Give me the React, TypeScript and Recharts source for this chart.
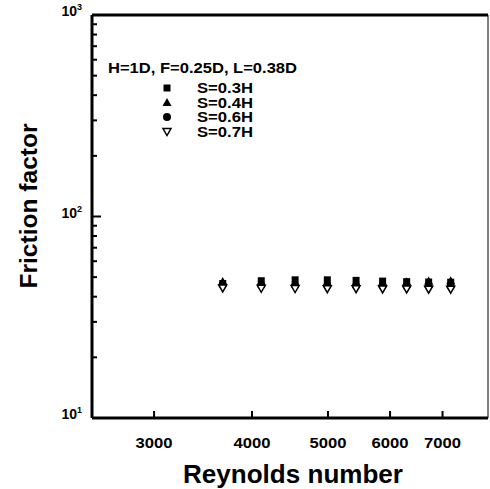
import { ScatterChart, Scatter, XAxis, YAxis, ReferenceLine } from "recharts";

// Reynolds numbers of the measured points
const reynolds = [3670, 4110, 4540, 4990, 5430, 5870, 6300, 6720, 7170];

// friction factor for each spacing
const s03 = [46.5, 48.0, 48.5, 48.5, 48.2, 47.8, 47.5, 47.3, 47.2];
const s04 = [47.6, 47.2, 47.0, 47.0, 47.0, 47.2, 47.5, 47.8, 48.0];
const s06 = [45.8, 45.6, 45.5, 45.4, 45.3, 45.3, 45.2, 45.2, 45.1];
const s07 = [44.2, 44.0, 43.9, 43.8, 43.8, 43.7, 43.7, 43.6, 43.6];

const seriesNames = ["S=0.3H", "S=0.4H", "S=0.6H", "S=0.7H"];
const headerText = "H=1D, F=0.25D, L=0.38D";

const xTicks = [3000, 4000, 5000, 6000, 7000];
const yTicks = [10, 20, 30, 40, 50, 60, 70, 80, 90, 100, 200, 300, 400, 500, 600, 700, 800, 900, 1000];
const xDomain = [2500, 8000];
const yDomain = [10, 1000];

const FONT = "'Liberation Sans', Arial, sans-serif";

const toRows = (ys: number[]) => reynolds.map((re, i) => ({ re, f: ys[i] }));

function SquareMark({ cx, cy }: any) {
  return <rect x={cx - 3.5} y={cy - 3.5} width={7} height={7} fill="#000" />;
}
function TriMark({ cx, cy }: any) {
  return <polygon points={`${cx},${cy - 4.5} ${cx + 4.5},${cy + 3.5} ${cx - 4.5},${cy + 3.5}`} fill="#000" />;
}
function DotMark({ cx, cy }: any) {
  return <circle cx={cx} cy={cy} r={4} fill="#000" />;
}
function InvTriMark({ cx, cy }: any) {
  return (
    <polygon
      points={`${cx - 4},${cy - 3} ${cx + 4},${cy - 3} ${cx},${cy + 4}`}
      fill="#fff"
      stroke="#000"
      strokeWidth={1.5}
    />
  );
}
const marks = [SquareMark, TriMark, DotMark, InvTriMark];

const isMajor = (v: number) => {
  const e = Math.log10(v);
  return Math.abs(e - Math.round(e)) < 1e-6;
};

function XTick(props: any) {
  const { x, y, payload } = props;
  return (
    <g>
      <rect x={x - 1} y={y - 7} width={2} height={7} fill="#000" />
      <text x={x} y={y + 30} textAnchor="middle" fontFamily={FONT} fontWeight="bold" fontSize={14}
        textLength={37} lengthAdjust="spacingAndGlyphs" fill="#000">
        {payload.value}
      </text>
    </g>
  );
}

function YTick(props: any) {
  const { x, y, payload } = props;
  const major = isMajor(payload.value);
  if (!major) {
    return <rect x={x} y={y - 1} width={5} height={2} fill="#000" />;
  }
  return (
    <g>
      <rect x={x} y={y - 1} width={9} height={2} fill="#000" />
      <text x={x - 10} y={y + 1} textAnchor="end" fontFamily={FONT} fontWeight="bold" fontSize={14} fill="#000">
        10<tspan dy={-6} fontSize={9}>{Math.round(Math.log10(payload.value))}</tspan>
      </text>
    </g>
  );
}

// legend block drawn over the plot's upper left corner
function LegendBox() {
  return (
    <svg width={490} height={150} style={{ position: "absolute", left: 0, top: 0, pointerEvents: "none" }}>
      <text x={108} y={73} fontFamily={FONT} fontWeight="bold" fontSize={15} textLength={189}
        lengthAdjust="spacingAndGlyphs" fill="#000">
        {headerText}
      </text>
      {seriesNames.map((name, i) => {
        const Mark = marks[i];
        const cy = 88 + i * 14.5;
        return (
          <g key={name}>
            <Mark cx={167} cy={cy} />
            <text x={197} y={cy + 5} fontFamily={FONT} fontWeight="bold" fontSize={14} textLength={56}
              lengthAdjust="spacingAndGlyphs" fill="#000">
              {name}
            </text>
          </g>
        );
      })}
    </svg>
  );
}

export default function App() {
  return (
    <div style={{ position: "absolute", left: 0, top: 0, width: 490, height: 489, background: "#fff" }}>
      <ScatterChart width={490} height={489} margin={{ top: 15, right: 2, left: 0, bottom: 0 }}>
        <XAxis
          dataKey="re"
          type="number"
          scale="log"
          domain={xDomain}
          allowDataOverflow
          ticks={xTicks}
          interval={0}
          height={71}
          tickSize={0}
          tickMargin={0}
          tickLine={false}
          tick={(p: any) => <XTick {...p} />}
          axisLine={{ stroke: "#000", strokeWidth: 3 }}
          label={{
            content: () => (
              <text x={293} y={483} textAnchor="middle" fontFamily={FONT} fontWeight="bold" fontSize={26}
                textLength={220} lengthAdjust="spacingAndGlyphs" fill="#000">
                Reynolds number
              </text>
            ),
          }}
        />
        <YAxis
          dataKey="f"
          type="number"
          scale="log"
          domain={yDomain}
          allowDataOverflow
          ticks={yTicks}
          interval={0}
          width={92}
          tickSize={0}
          tickMargin={0}
          tickLine={false}
          tick={(p: any) => <YTick {...p} />}
          axisLine={{ stroke: "#000", strokeWidth: 3 }}
          label={{
            content: () => (
              <text x={37} y={206} transform="rotate(-90 37 206)" textAnchor="middle" fontFamily={FONT}
                fontWeight="bold" fontSize={23} textLength={165} lengthAdjust="spacingAndGlyphs" fill="#000">
                Friction factor
              </text>
            ),
          }}
        />
        <ReferenceLine y={yDomain[1]} stroke="#000" strokeWidth={3} />
        <ReferenceLine x={xDomain[1]} stroke="#000" strokeWidth={1} />
        <Scatter name={seriesNames[0]} data={toRows(s03)} shape={SquareMark} fill="#000" isAnimationActive={false} />
        <Scatter name={seriesNames[1]} data={toRows(s04)} shape={TriMark} fill="#000" isAnimationActive={false} />
        <Scatter name={seriesNames[2]} data={toRows(s06)} shape={DotMark} fill="#000" isAnimationActive={false} />
        <Scatter name={seriesNames[3]} data={toRows(s07)} shape={InvTriMark} fill="#fff" isAnimationActive={false} />
      </ScatterChart>
      <LegendBox />
    </div>
  );
}
